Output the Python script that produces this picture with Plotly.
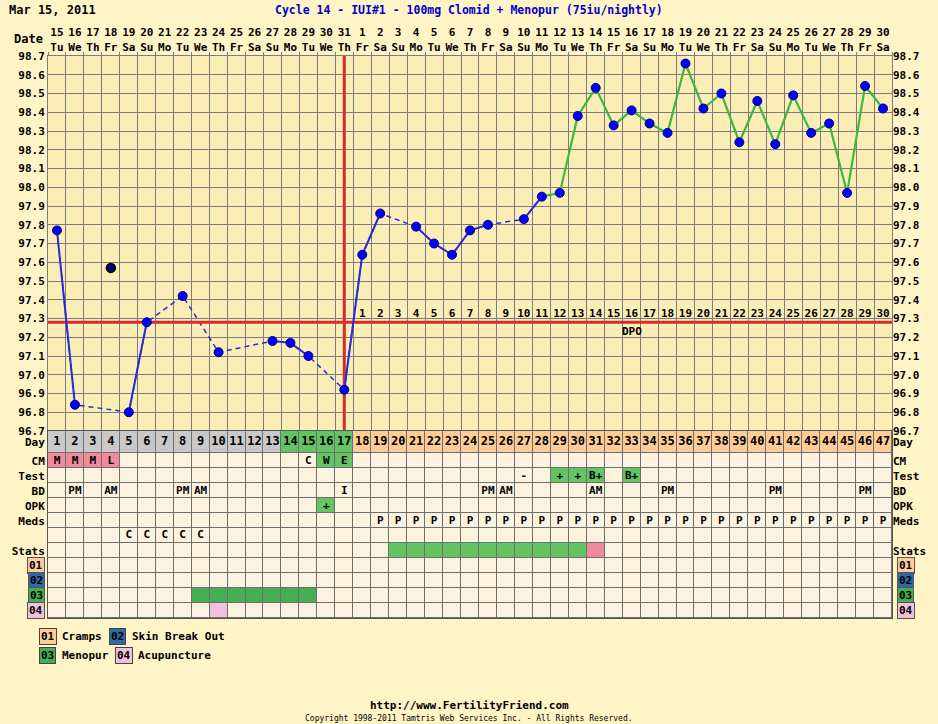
import plotly.graph_objects as go

# ---- chart info
chart_date = "Mar 15, 2011"
chart_title = "Cycle 14 - IUI#1 - 100mg Clomid + Menopur (75iu/nightly)"

cycle_days = list(range(1, 48))
dates = [15, 16, 17, 18, 19, 20, 21, 22, 23, 24, 25, 26, 27, 28, 29, 30, 31,
         1, 2, 3, 4, 5, 6, 7, 8, 9, 10, 11, 12, 13, 14, 15, 16, 17, 18, 19, 20,
         21, 22, 23, 24, 25, 26, 27, 28, 29, 30]
weekdays = ["Tu", "We", "Th", "Fr", "Sa", "Su", "Mo",
            "Tu", "We", "Th", "Fr", "Sa", "Su", "Mo",
            "Tu", "We", "Th", "Fr", "Sa", "Su", "Mo",
            "Tu", "We", "Th", "Fr", "Sa", "Su", "Mo",
            "Tu", "We", "Th", "Fr", "Sa", "Su", "Mo",
            "Tu", "We", "Th", "Fr", "Sa", "Su", "Mo",
            "Tu", "We", "Th", "Fr", "Sa"]

# ---- temperatures (None = no reading)
temps = [97.77, 96.84, None, None, 96.80, 97.28, None, 97.42, None, 97.12,
         None, None, 97.18, 97.17, 97.10, None, 96.92, 97.64, 97.86, None,
         97.79, 97.70, 97.64, 97.77, 97.80, None, 97.83, 97.95, 97.97, 98.38,
         98.53, 98.33, 98.41, 98.34, 98.29, 98.66, 98.42, 98.50, 98.24, 98.46,
         98.23, 98.49, 98.29, 98.34, 97.97, 98.54, 98.42]
discarded_days = [4]
discarded_temps = [97.57]
coverline = 97.28
ovulation_day = 17
green_from_day = 28
dpo_days = list(range(18, 48))

# ---- table rows (top to bottom)
row_names = ["Day", "CM", "Test", "BD", "OPK", "Meds", "", "Stats", "01", "02", "03", "04"]
day_row_colors = {**{d: "gray" for d in range(1, 14)},
                  **{d: "green" for d in range(14, 18)},
                  **{d: "orange" for d in range(18, 48)}}
cm_marks = {1: "M", 2: "M", 3: "M", 4: "L", 15: "C", 16: "W", 17: "E"}
cm_colors = {1: "pink", 2: "pink", 3: "pink", 4: "pink", 16: "green", 17: "green"}
test_marks = {27: "-", 29: "+", 30: "+", 31: "B+", 33: "B+"}
test_colors = {29: "green", 30: "green", 31: "green", 33: "green"}
bd_marks = {2: "PM", 4: "AM", 8: "PM", 9: "AM", 17: "I", 25: "PM", 26: "AM",
            31: "AM", 35: "PM", 41: "PM", 46: "PM"}
opk_marks = {16: "+"}
opk_colors = {16: "green"}
meds_marks = {d: "P" for d in range(19, 48)}
meds2_marks = {5: "C", 6: "C", 7: "C", 8: "C", 9: "C"}
stats_colors = {**{d: "green" for d in range(20, 31)}, 31: "pink"}
menopur_colors = {d: "dkgreen" for d in range(9, 16)}
acu_colors = {10: "ltpink"}

legend_codes = ["01", "02", "03", "04"]
legend_names = ["Cramps", "Skin Break Out", "Menopur", "Acupuncture"]

# ---- styling
FONT = "DejaVu Sans Mono"
PAPER = "#FFF4C6"
PLOT = "#FAEDB6"
GRID = "#7C7C7C"
BLUE_LINE = "#2B2BD6"
GREEN_LINE = "#3DB83D"
RED = "#D92B2B"
cell_palette = {"cream": "#FCF2E0", "gray": "#C9C9C9", "green": "#62C462",
                "orange": "#FFCC96", "pink": "#F2889C", "ltpink": "#F2C0DC",
                "dkgreen": "#45AE52"}
legend_box_colors = ["#FFCC96", "#2F6AA8", "#45AE52", "#F2C0DC"]

W, H = 938, 724
L, R, T, B = 46, 46, 56, 106
row_heights = [1.5] + [1] * 11
split = 187 / (H - T - B)


def px_x(px):
    return (px - L) / (W - L - R)


def px_y(py):
    return (H - B - py) / (H - T - B)


# row edges / centers in table units
edges = [0]
for h in reversed(row_heights):
    edges.append(edges[-1] + h)
centers_bottom_up = [(edges[i] + edges[i + 1]) / 2 for i in range(len(row_heights))]
row_center = dict(zip(reversed(row_names), centers_bottom_up))

# ---- build heatmap matrix
palette_keys = list(cell_palette.keys())
row_fills = {"Day": day_row_colors, "CM": cm_colors, "Test": test_colors,
             "OPK": opk_colors, "Stats": stats_colors, "03": menopur_colors,
             "04": acu_colors}
z = []
for name in reversed(row_names):
    fills = row_fills.get(name, {})
    z.append([palette_keys.index(fills.get(d, "cream")) for d in cycle_days])

n = len(palette_keys)
colorscale = []
for i, k in enumerate(palette_keys):
    colorscale.append([i / n, cell_palette[k]])
    colorscale.append([(i + 1) / n, cell_palette[k]])

# cell texts
cell_x, cell_y, cell_t = [], [], []
for name, marks in [("CM", cm_marks), ("Test", test_marks), ("BD", bd_marks),
                    ("OPK", opk_marks), ("Meds", meds_marks), ("", meds2_marks)]:
    for d, t in marks.items():
        cell_x.append(d)
        cell_y.append(row_center[name])
        cell_t.append(t)

fig = go.Figure()

# table
fig.add_trace(go.Heatmap(x=cycle_days, y=edges, z=z, colorscale=colorscale,
                         zmin=0, zmax=n, showscale=False, xgap=1, ygap=1,
                         hoverinfo="skip", xaxis="x2", yaxis="y2"))
fig.add_trace(go.Scatter(x=cycle_days, y=[row_center["Day"]] * len(cycle_days),
                         mode="text", text=[str(d) for d in cycle_days],
                         textfont=dict(family=FONT, size=12, color="black", weight="bold"),
                         hoverinfo="skip", xaxis="x2", yaxis="y4"))
fig.add_trace(go.Scatter(x=cell_x, y=cell_y, mode="text", text=cell_t,
                         textfont=dict(family=FONT, size=11, color="black", weight="bold"),
                         hoverinfo="skip", xaxis="x2", yaxis="y4"))

# temperature lines
blue_n = green_from_day
fig.add_trace(go.Scatter(x=cycle_days[:blue_n], y=temps[:blue_n], mode="lines",
                         connectgaps=True, line=dict(color=BLUE_LINE, width=1.5, dash="5px,4px"),
                         hoverinfo="skip"))
fig.add_trace(go.Scatter(x=[ovulation_day, ovulation_day], y=[96.705, 98.7], mode="lines",
                         line=dict(color=RED, width=3), hoverinfo="skip"))
fig.add_trace(go.Scatter(x=[0.5, 47.5], y=[coverline, coverline], mode="lines",
                         line=dict(color=RED, width=3), hoverinfo="skip"))
fig.add_trace(go.Scatter(x=cycle_days[:blue_n], y=temps[:blue_n], mode="lines",
                         connectgaps=False, line=dict(color=BLUE_LINE, width=2),
                         hoverinfo="skip"))
fig.add_trace(go.Scatter(x=cycle_days[blue_n - 1:], y=temps[blue_n - 1:], mode="lines",
                         line=dict(color=GREEN_LINE, width=2.2), hoverinfo="skip"))
fig.add_trace(go.Scatter(x=cycle_days, y=temps, mode="markers",
                         marker=dict(color="#0000FF", size=9, line=dict(color="#00007A", width=1)),
                         hoverinfo="x+y"))
fig.add_trace(go.Scatter(x=discarded_days, y=discarded_temps, mode="markers",
                         marker=dict(color="#000070", size=9, line=dict(color="black", width=1.5)),
                         hoverinfo="x+y"))

# DPO labels above coverline (on overlay axis)
fig.add_trace(go.Scatter(x=dpo_days, y=[coverline + 0.045] * len(dpo_days), mode="text",
                         text=[str(d - ovulation_day) for d in dpo_days],
                         textfont=dict(family=FONT, size=11, color="black", weight="bold"),
                         hoverinfo="skip", yaxis="y3"))

tick_font = dict(family=FONT, size=11, color="black", weight="bold")
temp_ticks = [round(96.7 + 0.1 * i, 1) for i in range(21)]
text_rows = ["Day", "CM", "Test", "BD", "OPK", "Meds", "Stats"]

fig.update_layout(
    width=W, height=H,
    margin=dict(l=L, r=R, t=T, b=B),
    paper_bgcolor=PAPER, plot_bgcolor=PLOT,
    showlegend=False,
    font=dict(family=FONT, size=11, color="black"),
    xaxis=dict(anchor="y", side="top", range=[0.5, 47.5],
               tickmode="array", tickvals=cycle_days,
               ticktext=[f"{d}<br>{w}" for d, w in zip(dates, weekdays)],
               tickfont=tick_font, ticks="", showgrid=False, zeroline=False,
               showline=True, linecolor=GRID, mirror=True,
               minor=dict(tick0=0.5, dtick=1, showgrid=True, gridcolor=GRID,
                          gridwidth=1, ticks="outside", ticklen=3, tickcolor=GRID)),
    yaxis=dict(domain=[split, 1], range=[96.7, 98.7], tickmode="array",
               tickvals=temp_ticks, ticktext=[f"{v:.1f}" for v in temp_ticks],
               tickfont=tick_font, showgrid=True, gridcolor=GRID, gridwidth=1,
               zeroline=False, showline=True, linecolor=GRID, mirror=True,
               ticks=""),
    yaxis3=dict(overlaying="y", side="right", anchor="x", range=[96.7, 98.7],
                tickmode="array", tickvals=temp_ticks,
                ticktext=[f"{v:.1f}" for v in temp_ticks], tickfont=tick_font,
                showgrid=False, zeroline=False, ticks=""),
    xaxis2=dict(anchor="y2", matches="x", showticklabels=False, showgrid=False,
                zeroline=False, showline=True, linecolor="#555555", mirror=True,
                ticks=""),
    yaxis2=dict(domain=[0, split], range=[0, edges[-1]], tickmode="array",
                tickvals=[row_center[r] for r in text_rows], ticktext=text_rows,
                tickfont=tick_font, showgrid=False, zeroline=False, ticks="",
                showline=True, linecolor="#555555", mirror=True),
    yaxis4=dict(overlaying="y2", side="right", anchor="x2", range=[0, edges[-1]],
                tickmode="array", tickvals=[row_center[r] for r in text_rows],
                ticktext=text_rows, tickfont=tick_font, showgrid=False,
                zeroline=False, ticks=""),
)

# gray backing under the table cells (shows through gaps as grid)
fig.add_shape(type="rect", xref="x2 domain", yref="y2 domain", x0=0, x1=1, y0=0, y1=1,
              fillcolor="#6E6E6E", line=dict(width=0), layer="below")

ann = []
# coloured stat labels on both sides of the table
for code, col in zip(legend_codes, legend_box_colors):
    for xpos, xanchor in [(px_x(43), "right"), (px_x(897), "left")]:
        ann.append(dict(text=f"<b>{code}</b>", xref="paper", yref="y2", x=xpos,
                        y=row_center[code], xanchor=xanchor, yanchor="middle",
                        showarrow=False, bgcolor=col, bordercolor="#555555",
                        borderwidth=1, borderpad=1, font=dict(family=FONT, size=11)))

# header
ann.append(dict(text=f"<b>{chart_date}</b>", xref="paper", yref="paper",
                x=px_x(5), y=px_y(10), xanchor="left", yanchor="middle",
                showarrow=False, font=dict(family=FONT, size=12)))
ann.append(dict(text=f"<b>{chart_title}</b>", xref="paper", yref="paper",
                x=px_x(468), y=px_y(10), xanchor="center", yanchor="middle",
                showarrow=False, font=dict(family=FONT, size=11.5, color="#0000CC")))
ann.append(dict(text="<b>Date</b>", xref="paper", yref="paper", x=px_x(43),
                y=px_y(39), xanchor="right", yanchor="middle", showarrow=False,
                font=dict(family=FONT, size=12)))
ann.append(dict(text="<b>DPO</b>", xref="x", yref="y", x=33, y=coverline - 0.05,
                xanchor="center", yanchor="middle", showarrow=False,
                font=dict(family=FONT, size=11)))

# legend below the table
legend_pos = [(37, 636), (107, 636), (37, 655), (113, 655)]
for code, name, col, (lx, ly) in zip(legend_codes, legend_names, legend_box_colors, legend_pos):
    ann.append(dict(text=f"<b>{code}</b>", xref="paper", yref="paper", x=px_x(lx),
                    y=px_y(ly), xanchor="left", yanchor="middle", showarrow=False,
                    bgcolor=col, bordercolor="#444444", borderwidth=1, borderpad=1,
                    font=dict(family=FONT, size=11)))
    ann.append(dict(text=f"<b>{name}</b>", xref="paper", yref="paper", x=px_x(lx + 21),
                    y=px_y(ly), xanchor="left", yanchor="middle", showarrow=False,
                    font=dict(family=FONT, size=11)))

# footer
ann.append(dict(text="<b>http://www.FertilityFriend.com</b>", xref="paper", yref="paper",
                x=px_x(468), y=px_y(705), xanchor="center", yanchor="middle",
                showarrow=False, font=dict(family=FONT, size=11)))
ann.append(dict(text="Copyright 1998-2011 Tamtris Web Services Inc. - All Rights Reserved.",
                xref="paper", yref="paper", x=px_x(468), y=px_y(718), xanchor="center",
                yanchor="middle", showarrow=False, font=dict(family=FONT, size=8)))

fig.update_layout(annotations=ann)

# drop the default page margin so the figure fills the window, no modebar
fig.write_html("out.html", config={"displayModeBar": False},
               post_script="document.body.style.margin='0';"
                           "document.body.style.background='" + PAPER + "';")
